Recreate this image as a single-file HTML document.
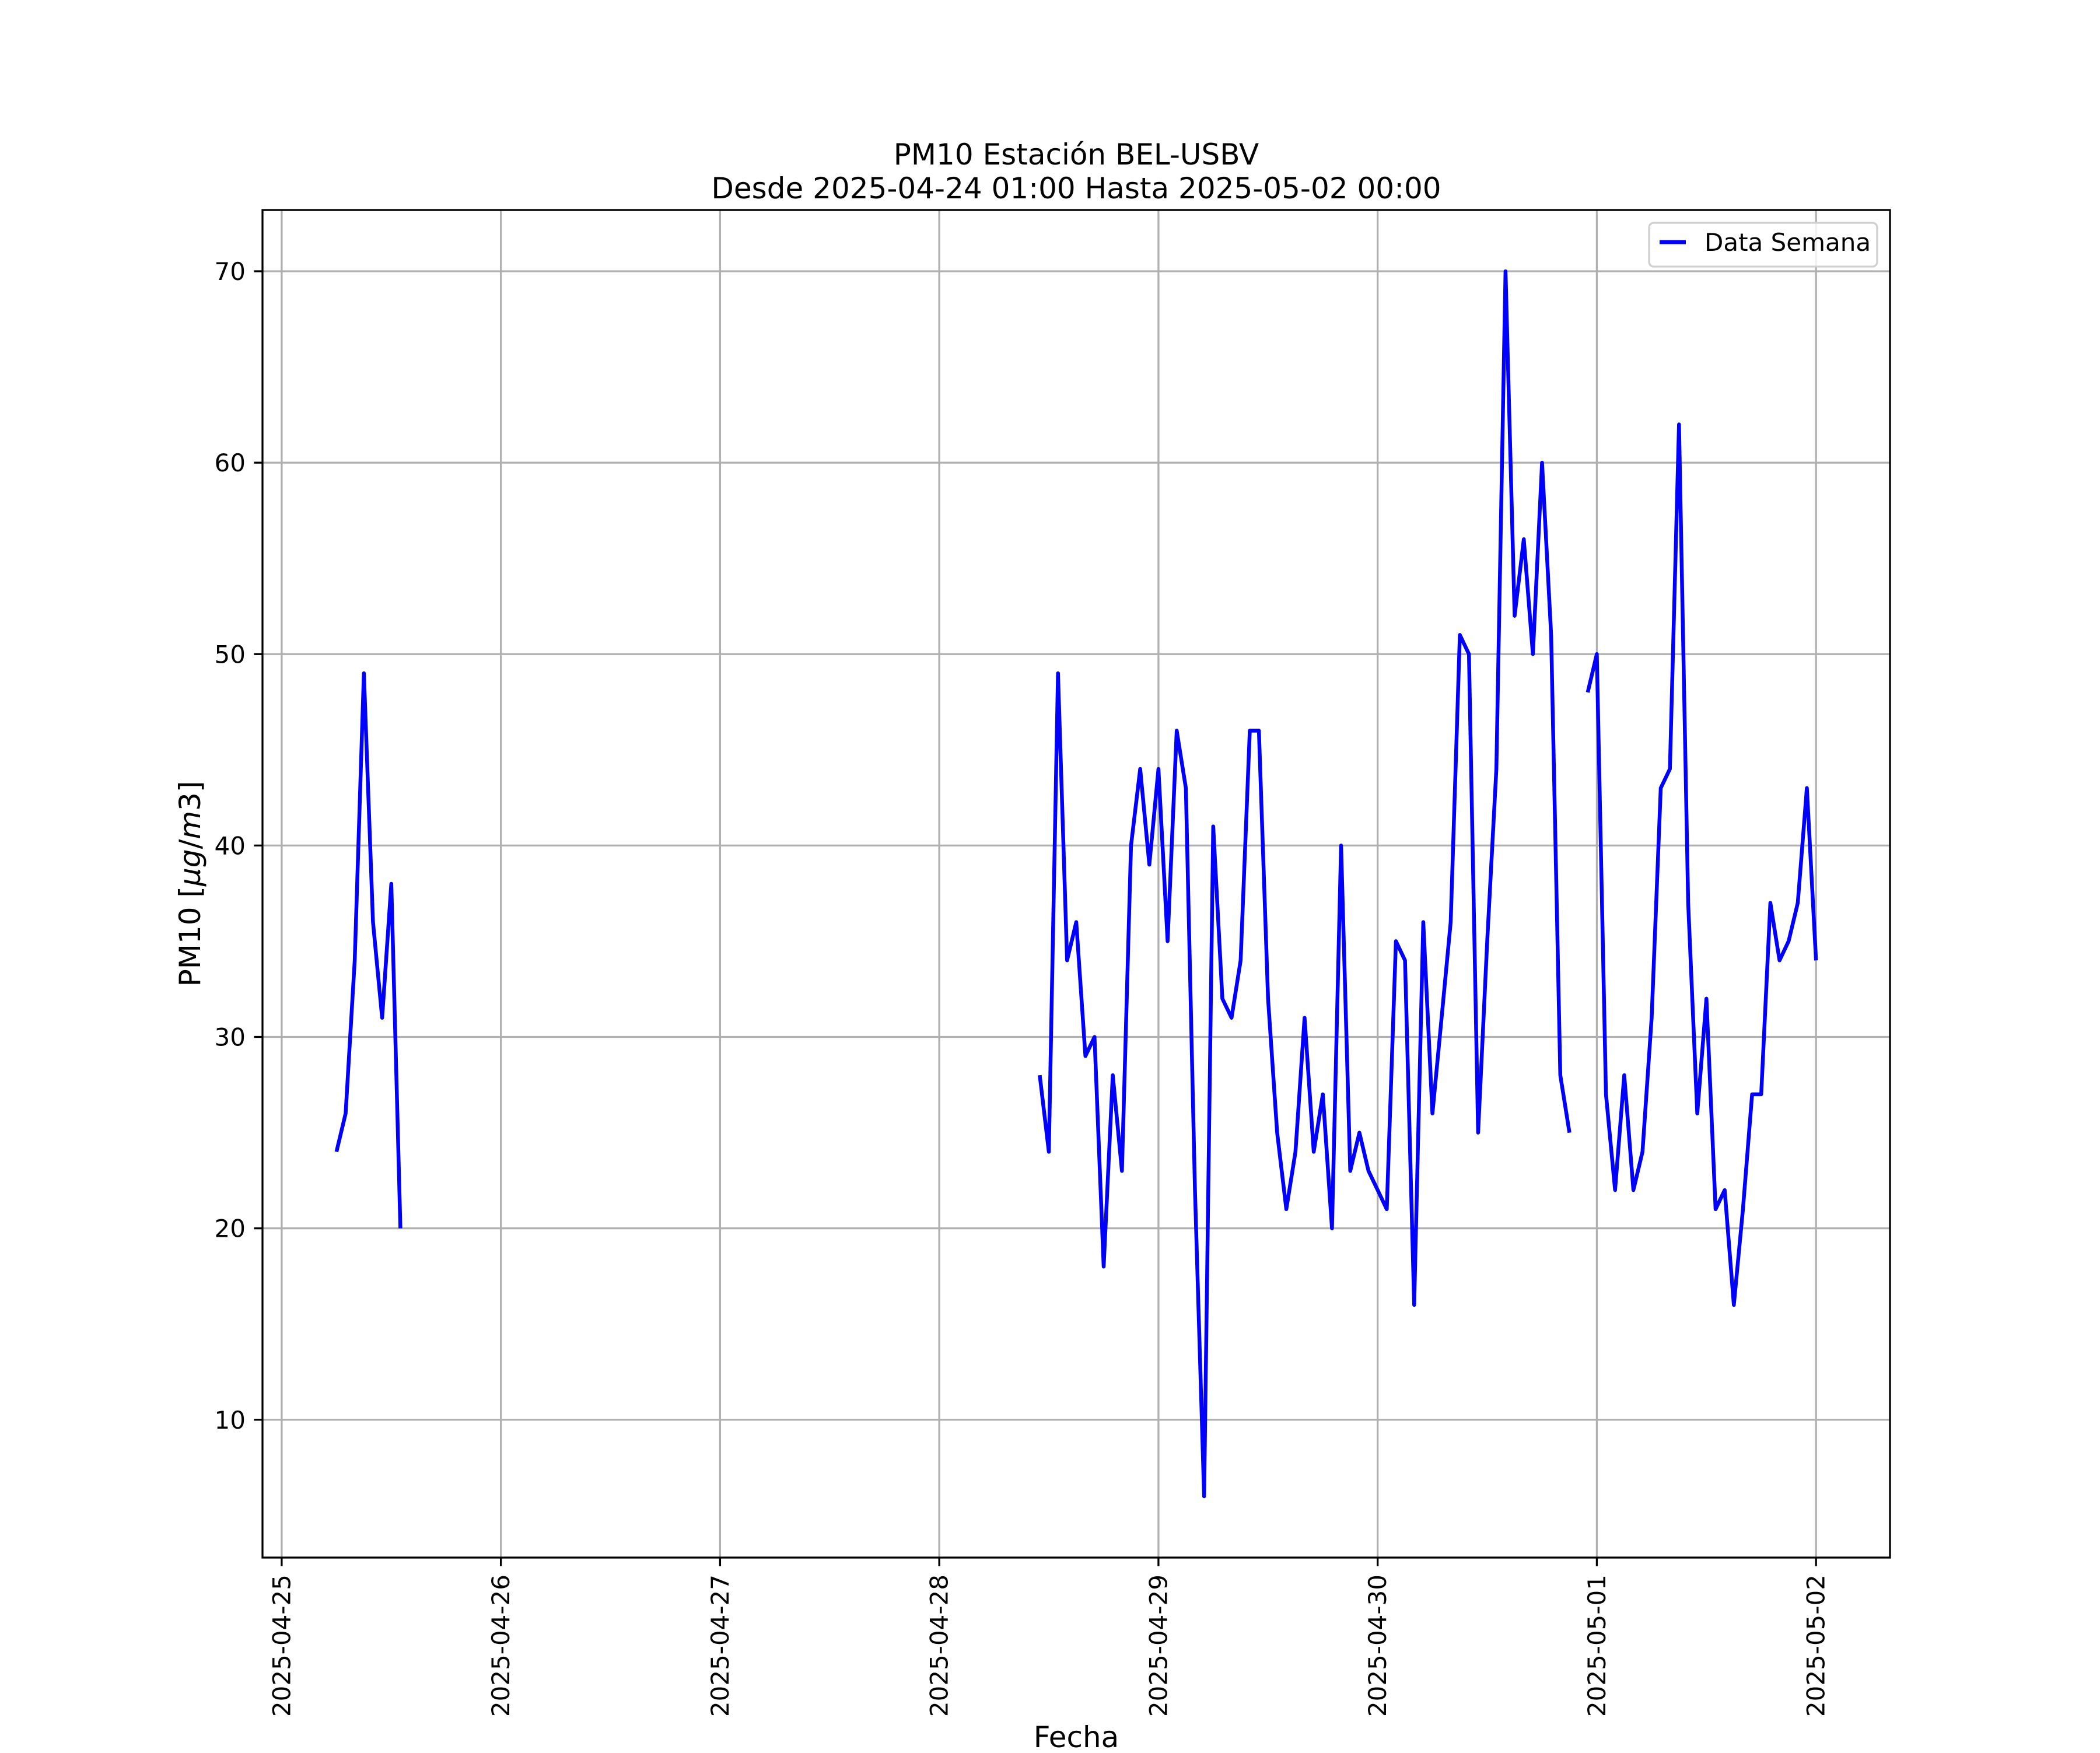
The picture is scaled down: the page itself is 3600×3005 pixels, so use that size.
<!DOCTYPE html>
<html><head><meta charset="utf-8"><style>
html,body{margin:0;padding:0;background:#fff;}
svg text{font-family:"DejaVu Sans","Liberation Sans",sans-serif;fill:#000;}
</style></head><body>
<svg id="chart" width="3600" height="3000" viewBox="0 0 3600 3000" xmlns="http://www.w3.org/2000/svg">
<rect width="3600" height="3000" fill="#fff"/>
<text x="1845" y="282" font-size="50" text-anchor="middle">PM10 Estación BEL-USBV</text>
<text x="1845" y="340" font-size="50" text-anchor="middle">Desde 2025-04-24 01:00 Hasta 2025-05-02 00:00</text>
<g id="grid"></g>
<g id="series"></g>
<rect x="450" y="360" width="2790" height="2310" fill="none" stroke="#000" stroke-width="3.3"/>
<g id="ticks"></g>
<text x="1845" y="2995" font-size="50" text-anchor="middle">Fecha</text>
<text transform="translate(343,1515) rotate(-90)" font-size="50" text-anchor="middle">PM10 [<tspan font-style="italic">μg</tspan>/<tspan font-style="italic">m</tspan>3]</text>
<g>
<rect x="2827" y="382" width="391" height="75" rx="8" fill="#fff" fill-opacity="0.8" stroke="#d0d0d0" stroke-width="3.3"/>
<line x1="2845" y1="415" x2="2890" y2="415" stroke="#0000ff" stroke-width="7"/>
<text x="2922" y="430" font-size="42">Data Semana</text>
</g>
</svg>
<script>
// Data: hourly PM10 values per contiguous segment (start hour offset from 2025-04-25 00:00)
const segStartHours = [6, 83, 143];
const seg1Values = [24,26,34,49,36,31,38,20];
const seg2Values = [28,24,49,34,36,29,30,18,28,23,40,44,39,44,35,46,43,22,6,41,32,31,34,46,46,32,25,21,24,31,24,27,20,40,23,25,23,22,21,35,34,16,36,26,31,36,51,50,25,35,44,70,52,56,50,60,51,28,25];
const seg3Values = [48,50,27,22,28,22,24,31,43,44,62,37,26,32,21,22,16,21,27,27,37,34,35,37,43,34];
const xTickLabels = ["2025-04-25","2025-04-26","2025-04-27","2025-04-28","2025-04-29","2025-04-30","2025-05-01","2025-05-02"];
const yTickValues = [10,20,30,40,50,60,70];

const NS = "http://www.w3.org/2000/svg";
const AX = {l:450, r:3240, t:360, b:2670};
const xMin = 6, xMax = 168; // hours, with 5% margins applied below
const xPad = (xMax - xMin) * 0.05;
const yMin = 2.8, yMax = 73.2;
function xScale(h){ return AX.l + (h - (xMin - xPad)) / ((xMax + xPad) - (xMin - xPad)) * (AX.r - AX.l); }
function yScale(v){ return AX.b - (v - yMin) / (yMax - yMin) * (AX.b - AX.t); }
function mk(tag, attrs){ const e = document.createElementNS(NS, tag); for (const k in attrs) e.setAttribute(k, attrs[k]); return e; }

const grid = document.getElementById('grid');
const ticks = document.getElementById('ticks');
xTickLabels.forEach((lab, i) => {
  const x = xScale(i * 24);
  const g = mk('line', {x1:x, y1:AX.t, x2:x, y2:AX.b, stroke:'#b0b0b0', 'stroke-width':3.3});
  
  
  grid.appendChild(g);
  const t = mk('line', {x1:x, y1:AX.b, x2:x, y2:AX.b + 14.6, stroke:'#000', 'stroke-width':3.3});
  
  
  ticks.appendChild(t);
  const tx = mk('text', {transform:'translate(' + x + ',' + (AX.b + 29) + ') rotate(-90)', 'font-size':42, 'text-anchor':'end', 'dominant-baseline':'central'});
  tx.textContent = lab;
  
  
  ticks.appendChild(tx);
});
yTickValues.forEach(v => {
  const y = yScale(v);
  const g = mk('line', {x1:AX.l, y1:y, x2:AX.r, y2:y, stroke:'#b0b0b0', 'stroke-width':3.3});
  
  
  grid.appendChild(g);
  const t = mk('line', {x1:AX.l - 14.6, y1:y, x2:AX.l, y2:y, stroke:'#000', 'stroke-width':3.3});
  
  
  ticks.appendChild(t);
  const tx = mk('text', {x:AX.l - 29, y:y + 15, 'font-size':42, 'text-anchor':'end'});
  tx.textContent = String(v);
  
  
  ticks.appendChild(tx);
});

const series = document.getElementById('series');
[seg1Values, seg2Values, seg3Values].forEach((vals, si) => {
  const pts = vals.map((v, i) => xScale(segStartHours[si] + i).toFixed(1) + ',' + yScale(v).toFixed(1)).join(' ');
  const pl = mk('polyline', {points:pts, fill:'none', stroke:'#0000ff', 'stroke-width':6.5, 'stroke-linejoin':'round'});
  
  
  series.appendChild(pl);
});
</script>
</body></html>
